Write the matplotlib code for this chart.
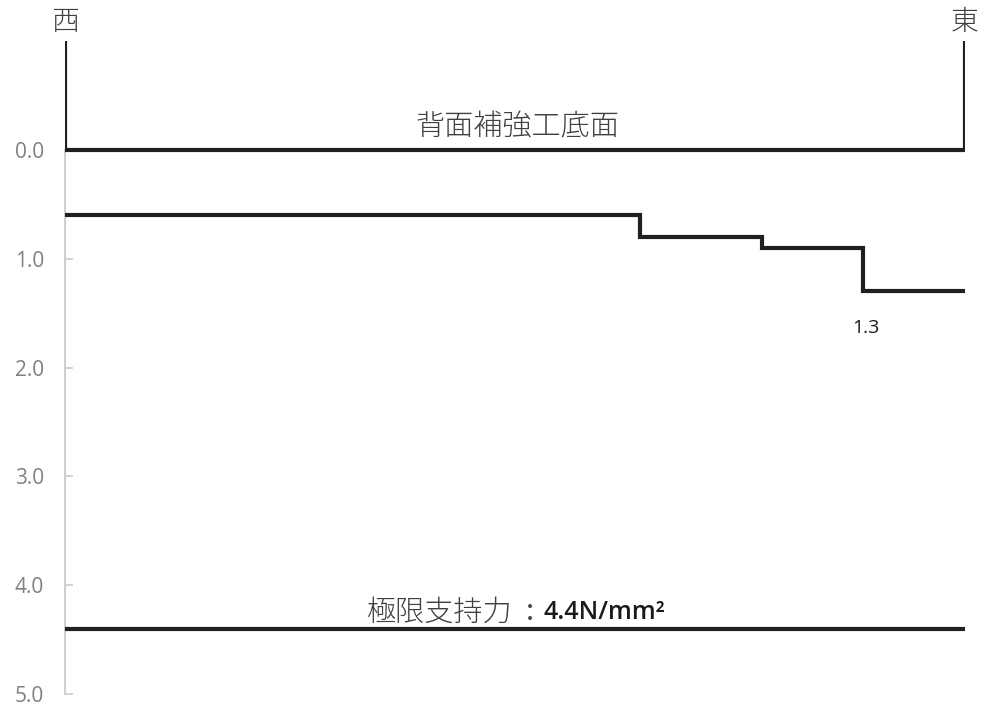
import matplotlib.pyplot as plt

plt.rcParams['font.family'] = ['Noto Sans CJK JP', 'DejaVu Sans']

# data
positions = [0, 63.9, 77.4, 88.7, 100]     # west -> east, percent of width
depths = [0.6, 0.8, 0.9, 1.3, 1.3]          # step line values
base_level = 0.0                            # 背面補強工底面
limit_level = 4.4                           # 極限支持力
bracket_top = -1.0
y_ticks = [0.0, 1.0, 2.0, 3.0, 4.0, 5.0]
y_tick_labels = ['0.0', '1.0', '2.0', '3.0', '4.0', '5.0']
end_value_label = '1.3'

line_color = '#231f20'
text_color = '#404040'
axis_color = '#d0d0d0'

fig = plt.figure(figsize=(9.86, 7.06), dpi=100)
ax = fig.add_axes([65 / 986, 0, 900 / 986, 1])

# step line
ax.step(positions, depths, where='post', color=line_color, linewidth=3, solid_joinstyle='miter', zorder=3)

# horizontal reference lines
ax.plot([positions[0], positions[-1]], [base_level, base_level], color=line_color, linewidth=3, zorder=3)
ax.plot([positions[0], positions[-1]], [limit_level, limit_level], color=line_color, linewidth=3, zorder=3)

# top bracket
ax.plot([positions[0], positions[0]], [bracket_top, base_level], color=line_color, linewidth=3,
        solid_capstyle='butt', zorder=3)
ax.plot([positions[-1], positions[-1]], [bracket_top, base_level], color=line_color, linewidth=3,
        solid_capstyle='butt', zorder=3)

# labels
ax.text(positions[0], -1.18, '西', ha='center', va='center', fontsize=20, color=text_color, fontweight='light')
ax.text(positions[-1], -1.18, '東', ha='center', va='center', fontsize=20, color=text_color, fontweight='light')
ax.text(50.3, -0.21, '背面補強工底面', ha='center', va='center', fontsize=21, color=text_color,
        fontweight='light')

t1 = ax.text(33.5, 4.25, '極限支持力', ha='left', va='center', fontsize=21, color=text_color,
             fontweight='light')
t2 = ax.annotate(':', xy=(1.0, 0.5), xycoords=t1, ha='left', va='center',
                 fontsize=21, color=text_color,
                 xytext=(10, 0), textcoords='offset points')
ax.annotate('4.4N/mm²', xy=(1.0, 0.5), xycoords=t2, ha='left', va='center',
            fontsize=18, family='Open Sans', fontweight='semibold', color='#1a1a1a',
            xytext=(7, 0), textcoords='offset points')

ax.text(88.95, 1.64, end_value_label, ha='center', va='center', fontsize=14,
        family='Open Sans', color='#1a1a1a')

# axes
ax.set_xlim(0, 100)
ax.set_ylim(5 + 12 / 108.8, -150 / 108.8)
ax.set_yticks(y_ticks)
ax.set_yticklabels(y_tick_labels, family='Open Sans', fontsize=15, color='#808080')
ax.tick_params(axis='y', direction='in', length=6, width=1.3, color=axis_color, pad=15)
ax.set_xticks([])
for side in ['top', 'right', 'bottom']:
    ax.spines[side].set_visible(False)
ax.spines['left'].set_bounds(0, 5)
ax.spines['left'].set_color(axis_color)
ax.spines['left'].set_linewidth(1.5)

fig.savefig('out.png', dpi=100)
